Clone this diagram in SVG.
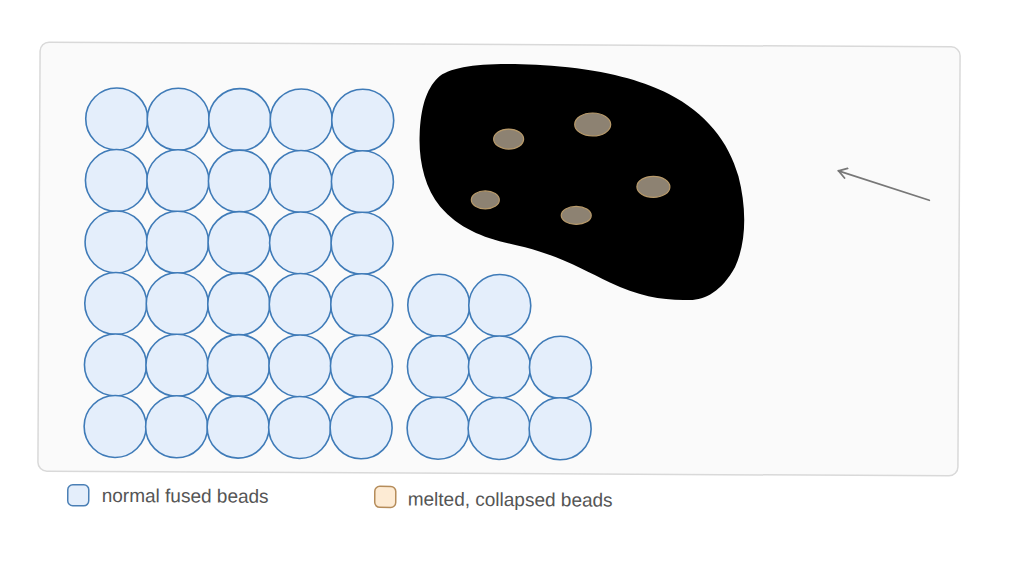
<svg xmlns="http://www.w3.org/2000/svg" width="1024" height="576" viewBox="0 0 1024 576">
<defs>
<style>
.bead{fill:#e4eefb;stroke:#3f7bb8;stroke-width:1.6}
.spot{fill:#8d8272;stroke:#b89a6a;stroke-width:1.2}
.lbl{font-family:"Liberation Sans",Arial,sans-serif;font-size:19px;fill:#555}
</style>
<marker id="ah" viewBox="0 0 12 12" refX="10" refY="6" markerWidth="12" markerHeight="12" markerUnits="userSpaceOnUse" orient="auto">
<path d="M2,1 L10,6 L2,11" fill="none" stroke="#777" stroke-width="1.8" stroke-linecap="round" stroke-linejoin="round"/>
</marker>
</defs>
<rect width="1024" height="576" fill="#ffffff"/>
<g transform="rotate(0.3 500 260)">
<g id="frame"><rect x="39" y="44.5" width="920" height="429" rx="9" fill="#fafafa" stroke="#d9d9d9" stroke-width="1.5"/></g>
<g id="fused-beads">
<circle class="bead" cx="116" cy="121" r="31"/><circle class="bead" cx="177.5" cy="121" r="31"/><circle class="bead" cx="239" cy="121" r="31"/><circle class="bead" cx="300.5" cy="121" r="31"/><circle class="bead" cx="362" cy="121" r="31"/>
<circle class="bead" cx="116" cy="182.5" r="31"/><circle class="bead" cx="177.5" cy="182.5" r="31"/><circle class="bead" cx="239" cy="182.5" r="31"/><circle class="bead" cx="300.5" cy="182.5" r="31"/><circle class="bead" cx="362" cy="182.5" r="31"/>
<circle class="bead" cx="116" cy="244" r="31"/><circle class="bead" cx="177.5" cy="244" r="31"/><circle class="bead" cx="239" cy="244" r="31"/><circle class="bead" cx="300.5" cy="244" r="31"/><circle class="bead" cx="362" cy="244" r="31"/>
<circle class="bead" cx="116" cy="305.5" r="31"/><circle class="bead" cx="177.5" cy="305.5" r="31"/><circle class="bead" cx="239" cy="305.5" r="31"/><circle class="bead" cx="300.5" cy="305.5" r="31"/><circle class="bead" cx="362" cy="305.5" r="31"/>
<circle class="bead" cx="116" cy="367" r="31"/><circle class="bead" cx="177.5" cy="367" r="31"/><circle class="bead" cx="239" cy="367" r="31"/><circle class="bead" cx="300.5" cy="367" r="31"/><circle class="bead" cx="362" cy="367" r="31"/>
<circle class="bead" cx="116" cy="428.5" r="31"/><circle class="bead" cx="177.5" cy="428.5" r="31"/><circle class="bead" cx="239" cy="428.5" r="31"/><circle class="bead" cx="300.5" cy="428.5" r="31"/><circle class="bead" cx="362" cy="428.5" r="31"/>
</g>
<g id="fused-beads-right">
<circle class="bead" cx="439" cy="305.5" r="31"/><circle class="bead" cx="500" cy="305.5" r="31"/>
<circle class="bead" cx="439" cy="367" r="31"/><circle class="bead" cx="500" cy="367" r="31"/><circle class="bead" cx="561" cy="367" r="31"/>
<circle class="bead" cx="439" cy="428.5" r="31"/><circle class="bead" cx="500" cy="428.5" r="31"/><circle class="bead" cx="561" cy="428.5" r="31"/>
</g>
<g id="melted-mass">
<path d="M437,78 C452,64 500,61 567,67 C615,72 645,82 668,93 C705,112 728,140 738,175 C746,205 747,240 735,266 C722,290 705,299 690,299 C665,300 640,296 610,282 C585,270 560,256 525,247 C490,240 462,232 440,207 C424,188 418,160 419,135 C420,108 425,90 437,78 Z" fill="#000"/>
<ellipse class="spot" cx="508" cy="139" rx="15" ry="10"/>
<ellipse class="spot" cx="592" cy="124" rx="18" ry="11.5"/>
<ellipse class="spot" cx="653" cy="186" rx="16.5" ry="10.5"/>
<ellipse class="spot" cx="485" cy="200" rx="14" ry="9"/>
<ellipse class="spot" cx="576" cy="215" rx="15" ry="9"/>
</g>
<g id="connectors">
<line x1="929" y1="198" x2="838" y2="169" stroke="#777" stroke-width="1.8" stroke-linecap="round" marker-end="url(#ah)"/>
</g>
<g id="legend">
<g id="legend-fused"><rect x="69" y="487" width="21" height="21" rx="5" fill="#e4eefb" stroke="#4a7fb5" stroke-width="1.5"/><text class="lbl" x="103" y="504">normal fused beads</text></g>
<g id="legend-melted"><rect x="376" y="487" width="21" height="21" rx="5" fill="#fdebd4" stroke="#b58c5a" stroke-width="1.5"/><text class="lbl" x="409" y="506">melted, collapsed beads</text></g>
</g>
</g>
</svg>
